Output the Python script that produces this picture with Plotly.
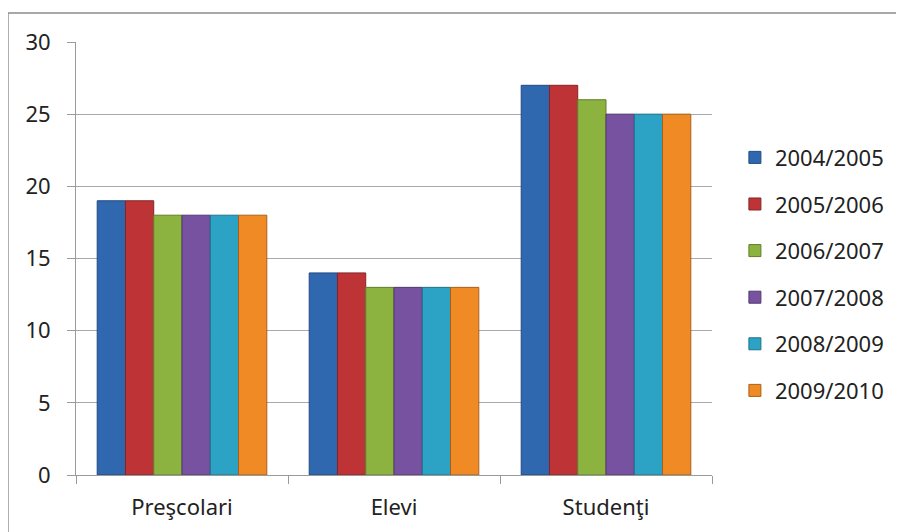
import plotly.graph_objects as go

categories = ["Preşcolari", "Elevi", "Studenţi"]
series_names = ["2004/2005", "2005/2006", "2006/2007", "2007/2008", "2008/2009", "2009/2010"]
v_2004_2005 = [19, 14, 27]
v_2005_2006 = [19, 14, 27]
v_2006_2007 = [18, 13, 26]
v_2007_2008 = [18, 13, 25]
v_2008_2009 = [18, 13, 25]
v_2009_2010 = [18, 13, 25]
series_values = [v_2004_2005, v_2005_2006, v_2006_2007, v_2007_2008, v_2008_2009, v_2009_2010]
y_ticks = [0, 5, 10, 15, 20, 25, 30]

colors = ["#3068B0", "#BE3436", "#8CB23F", "#7752A0", "#2CA3C4", "#F08A25"]
edges = ["#1F4A80", "#862426", "#627D2B", "#533870", "#1F7289", "#A8601A"]

fig = go.Figure()
for i, (name, vals) in enumerate(zip(series_names, series_values)):
    fig.add_trace(go.Bar(
        x=categories, y=vals, name=name, legendgroup=name,
        marker=dict(color=colors[i], line=dict(color=edges[i], width=1)),
    ))

fig.update_layout(
    width=896, height=524,
    margin=dict(l=68, r=192, t=34, b=57),
    paper_bgcolor="white", plot_bgcolor="white",
    barmode="group", bargap=0.2, bargroupgap=0,
    font=dict(family="Noto Sans, Open Sans, sans-serif", size=22, color="#222222"),
    showlegend=True,
    legend=dict(x=1.036, xanchor="left", y=0.464, yanchor="middle",
                font=dict(size=22), tracegroupgap=15, itemwidth=30,
                bgcolor="rgba(0,0,0,0)"),
    xaxis=dict(showgrid=False, showline=True, linecolor="#9A9A9A", linewidth=1,
               ticks="outside", tickson="boundaries", ticklen=8, tickcolor="#9A9A9A",
               tickfont=dict(size=22), ticklabelstandoff=13),
    yaxis=dict(range=[0, 30], tickvals=y_ticks, showgrid=True, gridcolor="#A8A8A8", gridwidth=1,
               showline=True, linecolor="#9A9A9A", linewidth=1, zeroline=False,
               ticks="outside", ticklen=8, tickcolor="#9A9A9A", tickfont=dict(size=22),
               ticklabelstandoff=12),
    shapes=[dict(type="rect", xref="paper", yref="paper",
                 x0=-0.107, x1=1.291, y0=-0.2, y1=1.067,
                 line=dict(color="#8C8C8C", width=1.5), fillcolor="rgba(0,0,0,0)", layer="below")],
)

fig.write_html("out.html")
